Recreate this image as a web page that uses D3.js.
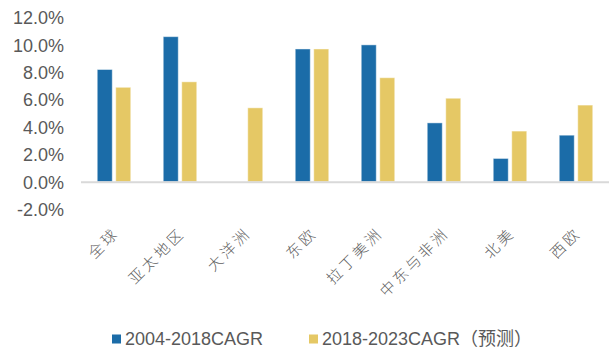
<!DOCTYPE html>
<html>
<head>
<meta charset="utf-8">
<script src="https://cdn.jsdelivr.net/npm/d3@7/dist/d3.min.js"></script>
<style>
  html, body { margin: 0; padding: 0; background: #fff; }
  svg { display: block; }
</style>
</head>
<body>
<svg id="chart" width="612" height="352"></svg>
<script>
// Regional growth rates (%), historical vs. forecast
const categories = ["全球", "亚太地区", "大洋洲", "东欧", "拉丁美洲", "中东与非洲", "北美", "西欧"];
const seriesNames = ["2004-2018CAGR", "2018-2023CAGR（预测）"];
const cagr2004_2018 = [8.2, 10.6, 0.0, 9.7, 10.0, 4.3, 1.7, 3.4];
const cagr2018_2023 = [6.9, 7.3, 5.4, 9.7, 7.6, 6.1, 3.7, 5.6];
const yTicks = [-2, 0, 2, 4, 6, 8, 10, 12];
const colors = ["#1b6ca8", "#e5c865"];

const svg = d3.select("#chart");
const textColor = "#595959";
const latin = "'Liberation Sans', Arial, 'Noto Sans CJK SC', sans-serif";
const cjk = "'Noto Sans CJK SC', sans-serif";

const plot = { left: 81, right: 609, top: 17.5, bottom: 209.1 };

const x = d3.scaleBand().domain(categories).range([plot.left, plot.right]).paddingInner(0).paddingOuter(0);
const y = d3.scaleLinear().domain([-2, 12]).range([plot.bottom, plot.top]);

const barW = 15, gap = 3.5;
const xSeries = d3.scaleOrdinal().domain([0, 1]).range([-(barW + gap / 2), gap / 2]);

const data = [cagr2004_2018, cagr2018_2023];

// bars
data.forEach((vals, s) => {
  svg.append("g").selectAll("rect")
    .data(vals)
    .join("rect")
    .attr("x", (d, i) => x(categories[i]) + x.bandwidth() / 2 + xSeries(s))
    .attr("width", barW)
    .attr("y", d => y(Math.max(0, d)))
    .attr("height", d => Math.abs(y(d) - y(0)))
    .attr("fill", colors[s])
    .attr("stroke", "rgba(255,255,255,0.45)")
    .attr("stroke-width", 1);
});

// category axis line at zero
svg.append("line")
  .attr("x1", plot.left).attr("x2", plot.right)
  .attr("y1", y(0) + 0.5).attr("y2", y(0) + 0.5)
  .attr("stroke", "#d9d9d9").attr("stroke-width", 2);

// value axis labels
const yAxis = d3.axisLeft(y).tickValues(yTicks).tickFormat(d => d.toFixed(1) + "%").tickSize(0).tickPadding(0);
const yg = svg.append("g").attr("transform", "translate(64,0)").call(yAxis);
yg.select(".domain").remove();
yg.selectAll("text")
  .attr("fill", textColor)
  .style("font-family", latin)
  .style("font-size", "18px")
  .attr("dy", "0.35em");

// rotated category labels
svg.append("g").selectAll("text")
  .data(categories)
  .join("text")
  .attr("transform", d => `translate(${x(d) + x.bandwidth() / 2 + 6},${234}) rotate(-45)`)
  .attr("text-anchor", "end")
  .attr("fill", "#606060")
  .style("font-family", cjk)
  .style("font-weight", 300)
  .style("font-size", "15px")
  .style("letter-spacing", "3px")
  .text(d => d);

// legend
const legendItems = [
  { name: seriesNames[0], color: colors[0], x: 112 },
  { name: seriesNames[1], color: colors[1], x: 309 }
];
const lg = svg.append("g");
legendItems.forEach(it => {
  lg.append("rect")
    .attr("x", it.x).attr("y", 334.5)
    .attr("width", 9).attr("height", 9)
    .attr("fill", it.color);
  lg.append("text")
    .attr("x", it.x + 13).attr("y", 339)
    .attr("dy", "0.35em")
    .attr("fill", textColor)
    .style("font-family", latin)
    .style("font-size", "18px")
    .text(it.name);
});
</script>
</body>
</html>
